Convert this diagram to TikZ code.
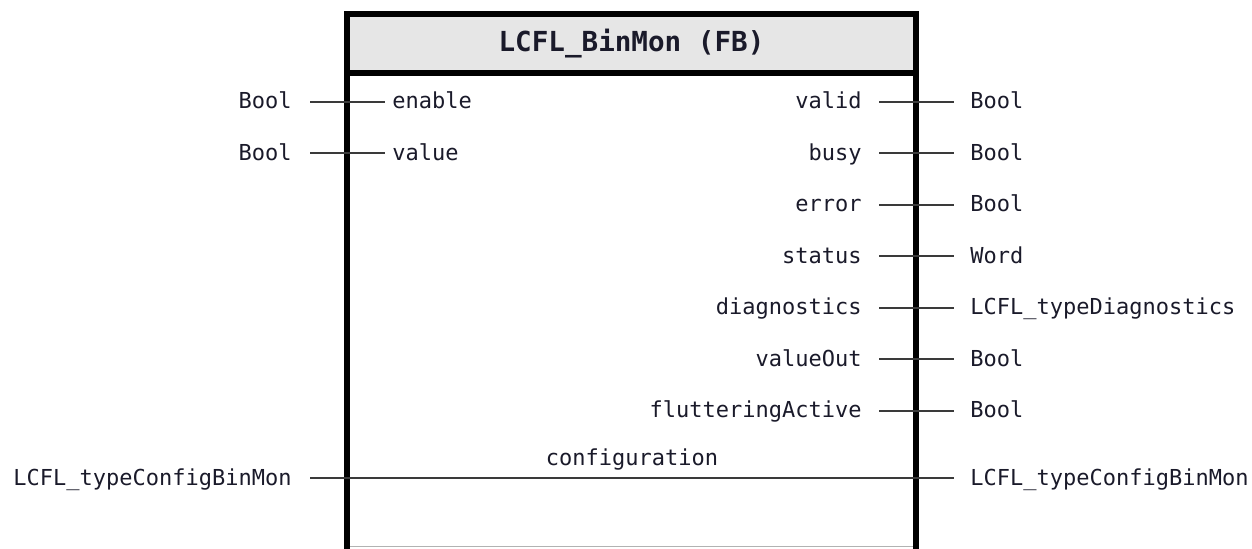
\documentclass[tikz,border=0pt]{standalone}
\usepackage{fontspec}
\setmonofont{DejaVu Sans Mono}
\usetikzlibrary{positioning, calc}
\definecolor{cline}{HTML}{3A3A3A}
\definecolor{chead}{HTML}{E6E6E6}
\definecolor{ctext}{HTML}{1A1A2A}
\tikzset{
  every picture/.style={font=\ttfamily\fontsize{11}{13}\selectfont},
  label/.style={text=ctext, inner ysep=0pt, text height=0.73em, text depth=0pt},
  typein/.style={label, anchor=east, inner xsep=9pt},
  typeout/.style={label, anchor=west, inner xsep=8pt},
  pinin/.style={label, anchor=west, inner xsep=3.5pt},
  pinout/.style={label, anchor=east, inner xsep=8.5pt},
  wire/.style={draw=cline, line width=1pt},
  fbline/.style={line width=2.8pt, line cap=rect},
  title/.style={font=\ttfamily\bfseries\fontsize{13.8}{16}\selectfont, text=ctext},
}

\begin{document}
\begin{tikzpicture}[x=0.5pt, y=-0.5pt]
  \useasboundingbox (0,0) rectangle (1252,548);
  % block
  \fill[white] (347,14) rectangle (916,547);
  \fill[chead] (347,14) rectangle (916,73);
  \draw[gray!60, line width=0.8pt] (347,546.6) -- (916,546.6);
  \draw[fbline] (347,548) -- (347,14) -- (916,14) -- (916,548);
  \draw[line width=3pt] (347,73) -- (916,73);
  \node[title] (fbname) at (631.5,44) {LCFL\_BinMon (FB)};
  % inputs
  \node[typein] (tenable) at (310,101.5) {Bool};
  \node[pinin] (enable) at (385,101.5) {enable};
  \node[typein] (tvalue) at (310,153) {Bool};
  \node[pinin] (value) at (385,153) {value};
  \draw[wire] (tenable) -- (enable);
  \draw[wire] (tvalue) -- (value);
  % outputs
  \foreach \pin/\typ [count=\i from 0] in {valid/Bool, busy/Bool, error/Bool, status/Word,
      diagnostics/LCFL\_typeDiagnostics, valueOut/Bool, flutteringActive/Bool} {
    \node[pinout] (out\i) at (879,{101.5+\i*51.5}) {\pin};
    \node[typeout] (tout\i) at (954,{101.5+\i*51.5}) {\typ};
    \draw[wire] (out\i) -- (tout\i);
  }
  % in/out
  \node[typein] (tcfgin) at (310,478) {LCFL\_typeConfigBinMon};
  \node[typeout] (tcfgout) at (954,478) {LCFL\_typeConfigBinMon};
  \draw[wire] (tcfgin) -- (tcfgout);
  \node[label, anchor=base] (cfg) at (632,465) {configuration};
\end{tikzpicture}
\end{document}
